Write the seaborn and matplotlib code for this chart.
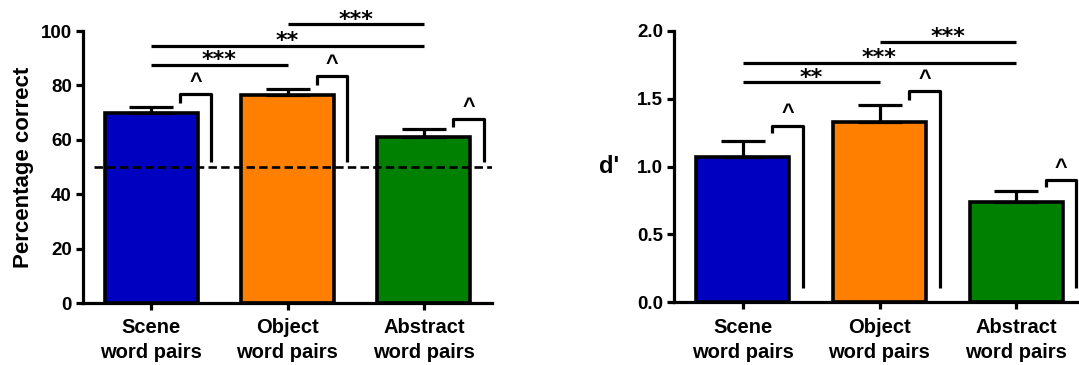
import matplotlib
matplotlib.use("Agg")
import matplotlib.pyplot as plt
import seaborn as sns
import pandas as pd
import numpy as np

categories = ["Scene\nword pairs", "Object\nword pairs", "Abstract\nword pairs"]
colors = ["#0000c0", "#ff8000", "#008000"]

pct_mean = [70.0, 76.6, 60.9]
pct_sem = [2.1, 2.0, 2.9]
dprime_mean = [1.07, 1.325, 0.74]
dprime_sem = [0.12, 0.125, 0.08]

# pairwise comparisons: (i, j, height, label)
pct_sig = [(0, 1, 87.5, "***"), (0, 2, 94.6, "**"), (1, 2, 102.4, "***")]
dprime_sig = [(0, 1, 1.62, "**"), (0, 2, 1.762, "***"), (1, 2, 1.92, "***")]
# chance brackets: (bar, left-bottom, top, right-bottom)
pct_brackets = [(0, 73.7, 76.7, 51.7), (1, 80.1, 83.5, 51.7), (2, 64.8, 67.6, 51.7)]
dprime_brackets = [(0, 1.245, 1.30, 0.103), (1, 1.49, 1.556, 0.103), (2, 0.847, 0.90, 0.103)]
chance_pct = 50

sns.set_style("ticks")
plt.rcParams["font.family"] = ["Liberation Sans", "DejaVu Sans"]
for k in ["text.color", "axes.labelcolor", "xtick.color", "ytick.color", "axes.edgecolor"]:
    plt.rcParams[k] = "black"

fig = plt.figure(figsize=(10.79, 3.65), dpi=100)
ax1 = fig.add_axes([83 / 1079, 62 / 365, 409 / 1079, 272 / 365])
ax2 = fig.add_axes([674.3 / 1079, 62.7 / 365, 410.4 / 1079, 271.6 / 365])

LW = 2.3


def draw(ax, means, sems, sig, brackets, ylim, yticks, star_off, caret_off):
    df = pd.DataFrame({"cat": categories, "val": means})
    sns.barplot(data=df, x="cat", y="val", hue="cat", palette=colors, legend=False,
                width=0.68, edgecolor="black", linewidth=2.6, ax=ax, errorbar=None,
                saturation=1)
    x = np.arange(len(means))
    ax.errorbar(x, means, yerr=[np.zeros(len(sems)), sems], fmt="none", ecolor="black",
                elinewidth=LW, capsize=16, capthick=LW, zorder=1)
    ax.set_xlim(-0.5, 2.5)
    ax.set_ylim(*ylim)
    ax.set_yticks(yticks)
    for i, j, h, lab in sig:
        ax.plot([i, j], [h, h], color="black", lw=LW, clip_on=False, solid_capstyle="butt")
        ax.text((i + j) / 2, h + star_off, lab, ha="center", va="bottom", fontsize=16,
                family="DejaVu Sans", fontweight="bold", clip_on=False)
    for b, lb, top, rb in brackets:
        xl, xr = b + 0.215, b + 0.44
        ax.plot([xl, xl, xr, xr], [lb, top, top, rb], color="black", lw=LW, clip_on=False,
                solid_capstyle="butt", solid_joinstyle="round")
        ax.text((xl + xr) / 2, top + caret_off, "^", ha="center", va="bottom",
                fontsize=15.5, fontweight="bold", clip_on=False)
    sns.despine(ax=ax)
    for s in ["left", "bottom"]:
        ax.spines[s].set_linewidth(LW)
    ax.tick_params(width=LW, length=5, labelsize=13.5, pad=3)
    ax.tick_params(axis="x", labelsize=14.5, pad=6)
    for t in ax.get_xticklabels():
        t.set_fontweight("bold")
        t.set_linespacing(1.4)
    for t in ax.get_yticklabels():
        t.set_fontweight("bold")
    ax.set_xlabel("")


draw(ax1, pct_mean, pct_sem, pct_sig, pct_brackets, (0, 100), [0, 20, 40, 60, 80, 100],
     -2.0, 0.5)
ax1.plot([-0.42, 2.5], [chance_pct, chance_pct], color="black", lw=1.9, ls="--",
         dashes=(3.2, 1.6), zorder=5)
ax1.set_ylabel("Percentage correct", fontsize=16, fontweight="bold", labelpad=5)

draw(ax2, dprime_mean, dprime_sem, dprime_sig, dprime_brackets, (0, 2.0),
     [0.0, 0.5, 1.0, 1.5, 2.0], -0.04, 0.01)
ax2.set_yticklabels(["0.0", "0.5", "1.0", "1.5", "2.0"])
for t in ax2.get_yticklabels():
    t.set_fontweight("bold")
ax2.set_ylabel("d'", fontsize=17, fontweight="bold", rotation=0, va="center", labelpad=20)

fig.savefig("out.png", dpi=100)
